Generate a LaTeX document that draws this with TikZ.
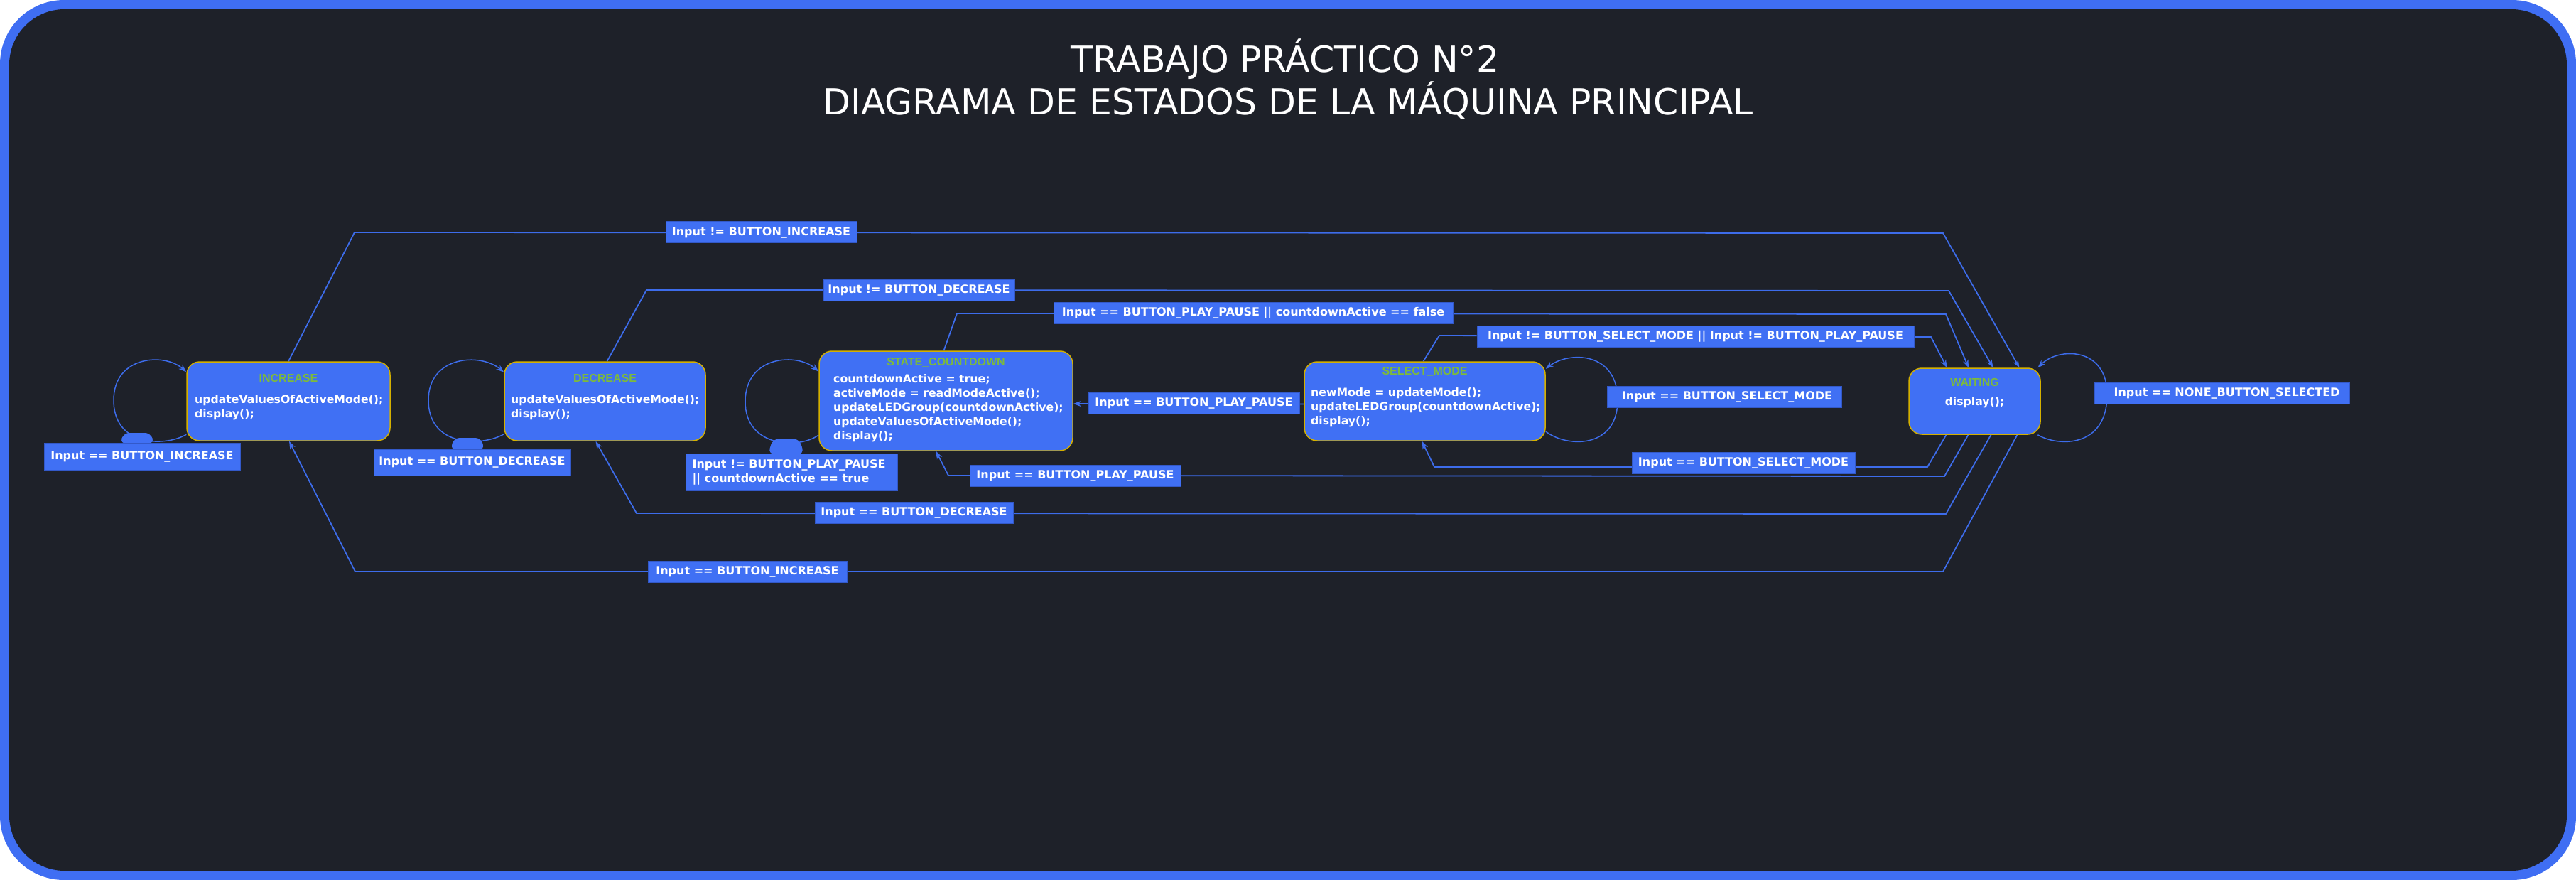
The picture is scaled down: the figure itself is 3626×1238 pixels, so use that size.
\documentclass[tikz,border=0pt]{standalone}
\usepackage{fontspec}
\setmainfont{DejaVu Sans}
\newfontfamily\arialf{Liberation Sans}
\usetikzlibrary{arrows.meta,calc}
\pgfdeclarelayer{back}
\pgfdeclarelayer{edges}
\pgfsetlayers{back,edges,main}
\definecolor{bgdark}{HTML}{1E2129}
\definecolor{frameblue}{HTML}{3F6EF3}
\definecolor{nodeblue}{HTML}{4070F4}
\definecolor{lblborder}{HTML}{3359C9}
\definecolor{gold}{HTML}{D4B000}
\definecolor{titlegreen}{HTML}{7DBA3C}
\definecolor{lineblue}{HTML}{3D6CEA}
\tikzset{
  statebox/.style={rectangle, rounded corners=18pt, fill=nodeblue, draw=gold, line width=1.5pt, inner sep=0pt},
  sttitle/.style={text=titlegreen, font=\arialf\bfseries\fontsize{16}{18}\selectfont, inner sep=0pt},
  stbody/.style={text=white, font=\bfseries\fontsize{15.7}{20}\selectfont, align=left, inner sep=0pt},
  lbl/.style={fill=nodeblue, draw=lblborder, line width=1pt, text=white, font=\bfseries\fontsize{16}{20}\selectfont, inner sep=0pt, minimum height=30pt},
  conn/.style={draw=lineblue, line width=1.8pt},
  arr/.style={-{Stealth[length=11pt,width=8pt]}},
  bigtitle/.style={text=white, font=\fontsize{50.5}{60}\selectfont, inner sep=0pt, anchor=base},
}
\begin{document}
\begin{tikzpicture}[x=1pt,y=-1pt]
\useasboundingbox (0,0) rectangle (3626,1238);
\begin{pgfonlayer}{back}
  \fill[white] (0,0) rectangle (3626,1238);
  \fill[frameblue, rounded corners=90pt] (0,0) rectangle (3626,1238);
  \fill[bgdark, rounded corners=78pt] (13,13) rectangle (3613,1225);
\end{pgfonlayer}

% title
\node[bigtitle] (t1) at (1809,102) {TRABAJO PRÁCTICO N°2};
\node[bigtitle] (t2) at (1813,162) {DIAGRAMA DE ESTADOS DE LA MÁQUINA PRINCIPAL};

% states
\node[statebox, minimum width=286pt, minimum height=111pt] (inc) at (406,564.5) {};
\node[sttitle] (incT) at (406,532) {INCREASE};
\node[stbody, anchor=west] (incB) at (274,573) {updateValuesOfActiveMode();\\display();};

\node[statebox, minimum width=283pt, minimum height=111pt] (dec) at (851.5,564.5) {};
\node[sttitle] (decT) at (851.5,532) {DECREASE};
\node[stbody, anchor=west] (decB) at (719,573) {updateValuesOfActiveMode();\\display();};

\node[statebox, minimum width=357pt, minimum height=140pt] (cd) at (1331.5,564) {};
\node[sttitle] (cdT) at (1331.5,510) {STATE\_COUNTDOWN};
\node[stbody, anchor=west] (cdB) at (1173,574) {countdownActive = true;\\activeMode = readModeActive();\\updateLEDGroup(countdownActive);\\updateValuesOfActiveMode();\\display();};

\node[statebox, minimum width=339pt, minimum height=111pt] (sm) at (2005.5,564.5) {};
\node[sttitle] (smT) at (2005.5,523) {SELECT\_MODE};
\node[stbody, anchor=west] (smB) at (1845,573) {newMode = updateMode();\\updateLEDGroup(countdownActive);\\display();};

\node[statebox, minimum width=185pt, minimum height=93pt] (w) at (2779.5,564.5) {};
\node[sttitle] (wT) at (2779.5,538) {WAITING};
\node[stbody] (wB) at (2779.5,566) {display();};

% bumps on loop labels
\fill[nodeblue, rounded corners=8pt] (169,624) -- (174,609) -- (212,609) -- (217,624) -- cycle;
\fill[nodeblue, rounded corners=8pt] (634,633) -- (639,616) -- (677,616) -- (682,633) -- cycle;
\fill[nodeblue, rounded corners=9pt] (1081,639) -- (1088,617) -- (1125,617) -- (1132,639) -- cycle;

% labels
\node[lbl, minimum width=269pt] (l1) at (1071.5,327) {Input != BUTTON\_INCREASE};
\node[lbl, minimum width=269pt] (l2) at (1293.5,408) {Input != BUTTON\_DECREASE};
\node[lbl, minimum width=562pt] (l3) at (1764,440.5) {Input == BUTTON\_PLAY\_PAUSE || countdownActive == false};
\node[lbl, minimum width=615pt] (l4) at (2386.5,473) {Input != BUTTON\_SELECT\_MODE || Input != BUTTON\_PLAY\_PAUSE};
\node[lbl, minimum width=297pt] (l5) at (1680.5,567) {Input == BUTTON\_PLAY\_PAUSE};
\node[lbl, minimum width=314pt] (l6) at (2454,651.5) {Input == BUTTON\_SELECT\_MODE};
\node[lbl, minimum width=297pt] (l7) at (1513.5,669.5) {Input == BUTTON\_PLAY\_PAUSE};
\node[lbl, minimum width=279pt] (l8) at (1286.5,721) {Input == BUTTON\_DECREASE};
\node[lbl, minimum width=280pt] (l9) at (1052,804) {Input == BUTTON\_INCREASE};
\node[lbl, minimum width=276pt, minimum height=38pt] (lA) at (200,642) {Input == BUTTON\_INCREASE};
\node[lbl, minimum width=277pt, minimum height=37pt] (lB) at (664.5,650.5) {Input == BUTTON\_DECREASE};
\node[lbl, minimum width=298pt, minimum height=52pt, align=left] (lC) at (1114,664) {Input != BUTTON\_PLAY\_PAUSE\\|| countdownActive == true\hspace*{30pt}};
\node[lbl, minimum width=330pt] (lD) at (2427,558.5) {\hspace*{8pt}Input == BUTTON\_SELECT\_MODE};
\node[lbl, minimum width=359pt] (lE) at (3127.5,553) {\hspace*{14pt}Input == NONE\_BUTTON\_SELECTED};

% connectors
\begin{pgfonlayer}{edges}
  % self loops
  \draw[conn, line width=1.5pt, arr] (inc.198) .. controls (235,628) and (160,630) .. (160,563) .. controls (160,500) and (232,496) .. (inc.164);
  \draw[conn, line width=1.5pt, arr] (dec.198) .. controls (680,628) and (603,630) .. (603,563) .. controls (603,500) and (677,496) .. (dec.164);
  \draw[conn, line width=1.5pt, arr] (cd.195) .. controls (1125,632) and (1049,630) .. (1049,565) .. controls (1049,500) and (1122,496) .. (cd.167);
  \draw[conn, line width=1.5pt, arr] (sm.-14) .. controls (2205,630) and (2277,632) .. (2277,563) .. controls (2277,494) and (2208,494) .. (sm.15);
  \draw[conn, line width=1.5pt, arr] (w.-28) .. controls (2895,628) and (2966,632) .. (2966,555) .. controls (2966,488) and (2898,488) .. (w.28);
  % to WAITING
  \draw[conn, arr] (inc.north) -- (499,327) -- (2735,328) -- ($(w.north)+(63,0)$);
  \draw[conn, arr] ($(dec.north)+(3,0)$) -- (910,408) -- (2743,409) -- ($(w.north)+(26,0)$);
  \draw[conn, arr] ($(cd.north)+(-3,0)$) -- (1347,441) -- (2739,442) -- ($(w.north)+(-8.5,0)$);
  \draw[conn, arr] ($(sm.north)+(-2,0)$) -- (2026,472) -- (2718,474) -- ($(w.north)+(-39,0)$);
  % from WAITING
  \draw[conn, arr] ($(w.south)+(-40,0)$) -- (2713,657) -- (2019,657) -- ($(sm.south)+(-4,0)$);
  \draw[conn, arr] ($(w.south)+(-9,0)$) -- (2737,670) -- (1335,669) -- ($(cd.south)+(-14,0)$);
  \draw[conn, arr] ($(w.south)+(23,0)$) -- (2739,723) -- (896,722) -- ($(dec.south)+(-13,0)$);
  \draw[conn, arr] ($(w.south)+(60,0)$) -- (2735,804) -- (500,804) -- ($(inc.south)+(1,0)$);
  % SELECT_MODE -> COUNTDOWN
  \draw[conn, arr] ($(sm.west)+(0,4)$) -- ($(cd.east)+(0,4)$);
\end{pgfonlayer}
\end{tikzpicture}
\end{document}
